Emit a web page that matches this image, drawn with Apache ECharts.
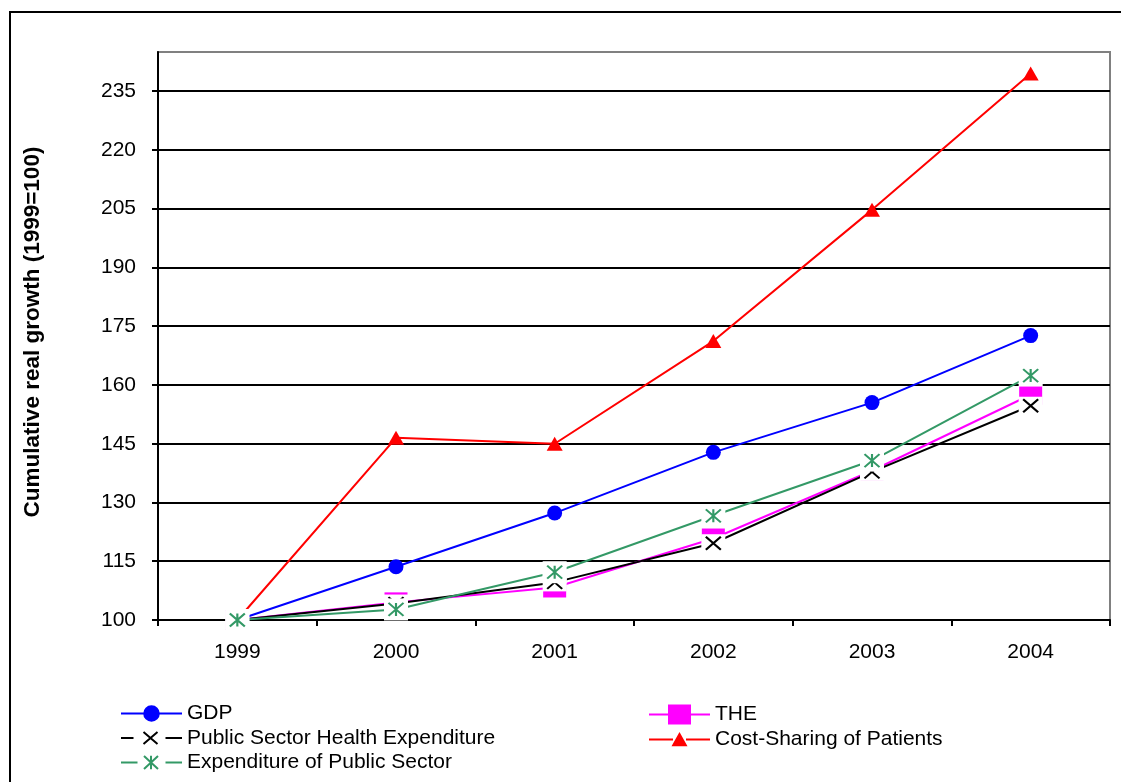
<!DOCTYPE html>
<html>
<head>
<meta charset="utf-8">
<script src="https://cdn.jsdelivr.net/npm/echarts@6/dist/echarts.min.js"></script>
<style>
  html, body { margin: 0; padding: 0; background: #fff; }
  #chart { width: 1121px; height: 782px; }
</style>
</head>
<body>
<div id="chart"></div>
<script>
// Cumulative real growth, 1999 = 100
const years = ['1999', '2000', '2001', '2002', '2003', '2004'];
const gdp = [100, 113.6, 127.3, 142.8, 155.5, 172.6];
const the = [100, 104.5, 108.3, 120.8, 138.1, 157.5];
const publicHealth = [100, 104.2, 109.6, 119.6, 137.8, 154.7];
const costSharing = [100, 146.5, 145.0, 171.2, 204.7, 239.5];
const publicSector = [100, 102.7, 112.2, 126.6, 140.7, 162.4];
const yTicks = [100, 115, 130, 145, 160, 175, 190, 205, 220, 235];

const names = {
  gdp: 'GDP',
  the: 'THE',
  pshe: 'Public Sector Health Expenditure',
  cost: 'Cost-Sharing of Patients',
  eps: 'Expenditure of Public Sector'
};
const colors = {
  gdp: '#0000FF',
  the: '#FF00FF',
  pshe: '#000000',
  cost: '#FF0000',
  eps: '#339966'
};

const FONT = '"Liberation Sans", Arial, sans-serif';

// ---- helpers for filled legend icon paths (61 x 20 box) ----
function fmt(n) { return (+n).toFixed(2); }
function polyP(pts) {
  let a = 0;
  for (let i = 0; i < pts.length; i++) {
    const p = pts[i], q = pts[(i + 1) % pts.length];
    a += p[0] * q[1] - q[0] * p[1];
  }
  if (a < 0) pts = pts.slice().reverse();
  return 'M' + pts.map(p => fmt(p[0]) + ' ' + fmt(p[1])).join('L') + 'Z';
}
function rectP(x, y, w, h) {
  return polyP([[x, y], [x + w, y], [x + w, y + h], [x, y + h]]);
}
function barP(x1, y1, x2, y2, w) {
  const dx = x2 - x1, dy = y2 - y1, len = Math.hypot(dx, dy);
  const nx = -dy / len * w / 2, ny = dx / len * w / 2;
  return polyP([[x1 + nx, y1 + ny], [x2 + nx, y2 + ny], [x2 - nx, y2 - ny], [x1 - nx, y1 - ny]]);
}
function circleP(cx, cy, r) {
  return 'M' + fmt(cx - r) + ' ' + fmt(cy) +
    'A' + r + ' ' + r + ' 0 1 1 ' + fmt(cx + r) + ' ' + fmt(cy) +
    'A' + r + ' ' + r + ' 0 1 1 ' + fmt(cx - r) + ' ' + fmt(cy) + 'Z';
}
// invisible corner points so every icon path spans the full 61 x 20 box
const corners = 'M0 0L0.01 0L0 0.01Z M61 20L60.99 20L61 19.99Z ';
const icon = {
  gdp: corners + rectP(0, 9, 22.5, 2) + rectP(38.5, 9, 22.5, 2) + circleP(30.5, 10, 8.3),
  the: corners + rectP(0, 9, 20, 2) + rectP(41, 9, 20, 2) + rectP(19, 0, 23, 20),
  pshe: corners + rectP(0, 9, 12.5, 2) + barP(22.5, 4, 36.5, 16, 2) + barP(22.5, 16, 36.5, 4, 2) + rectP(44.5, 9, 16.5, 2),
  cost: corners + rectP(0, 9, 24, 2) + rectP(37, 9, 24, 2) + polyP([[30.5, 2.6], [38.5, 16.8], [22.5, 16.8]]),
  eps: corners + rectP(0, 9, 16.5, 2) + barP(23, 3.5, 37, 16.5, 2) + barP(23, 16.5, 37, 3.5, 2) +
       barP(30, 3.2, 30, 16.8, 2) + rectP(44.5, 9, 16.5, 2)
};

// stroked marker glyphs used on the plot
const xGlyph = 'path://M0 0L15 13M0 13L15 0';
const starGlyph = 'path://M0 0L15 13M0 13L15 0M7.5 0L7.5 13';

function lineSeries(key, data) {
  return {
    name: names[key], type: 'line', data: data, z: 2,
    symbol: 'none', showSymbol: false,
    lineStyle: { color: colors[key], width: 2 },
    itemStyle: { color: colors[key] },
    emphasis: { disabled: true }
  };
}
function markerSeries(name, data, z, symbol, size, style) {
  return {
    name: name, type: 'scatter', data: data, z: z,
    symbol: symbol, symbolSize: size,
    itemStyle: Object.assign({ opacity: 1 }, style),
    emphasis: { disabled: true }, silent: true
  };
}

const legendText = { color: '#000', fontSize: 21, lineHeight: 20, fontFamily: FONT };

const chart = echarts.init(document.getElementById('chart'), null, { renderer: 'canvas' });

chart.setOption({
  animation: false,
  backgroundColor: '#ffffff',
  graphic: [{
    type: 'rect', z: -10, silent: true,
    shape: { x: 10, y: 12, width: 1200, height: 900 },
    style: { fill: 'none', stroke: '#000', lineWidth: 2 }
  }],
  grid: {
    left: 158, top: 52, right: 11, bottom: 162,
    show: true, borderColor: '#808080', borderWidth: 2, backgroundColor: 'transparent'
  },
  legend: [{
    orient: 'vertical', left: 121, top: 703, padding: 0,
    itemWidth: 61, itemHeight: 20, itemGap: 3.5,
    selectedMode: false, symbolKeepAspect: true, textStyle: legendText,
    data: [
      { name: names.gdp, icon: 'path://' + icon.gdp, itemStyle: { color: colors.gdp, borderWidth: 0 } },
      { name: names.pshe, icon: 'path://' + icon.pshe, itemStyle: { color: colors.pshe, borderWidth: 0 } },
      { name: names.eps, icon: 'path://' + icon.eps, itemStyle: { color: colors.eps, borderWidth: 0 } }
    ]
  }, {
    orient: 'vertical', left: 649, top: 704, padding: 0,
    itemWidth: 61, itemHeight: 20, itemGap: 4,
    selectedMode: false, symbolKeepAspect: true, textStyle: legendText,
    data: [
      { name: names.the, icon: 'path://' + icon.the, itemStyle: { color: colors.the, borderWidth: 0 } },
      { name: names.cost, icon: 'path://' + icon.cost, itemStyle: { color: colors.cost, borderWidth: 0 } }
    ]
  }],
  xAxis: {
    type: 'category', data: years, boundaryGap: true,
    axisLine: { lineStyle: { color: '#000', width: 2 } },
    axisTick: { show: true, inside: false, length: 6, alignWithLabel: false, lineStyle: { color: '#000', width: 2 } },
    axisLabel: { interval: 0, margin: 22, color: '#000', fontSize: 21, fontFamily: FONT },
    splitLine: { show: false }
  },
  yAxis: {
    type: 'value', min: 100, max: 245, interval: 15,
    name: 'Cumulative real growth (1999=100)',
    nameLocation: 'middle', nameGap: 114, nameRotate: 90,
    nameTextStyle: { color: '#000', fontSize: 22.5, fontWeight: 'bold', fontFamily: FONT, padding: [0, 0, 0, 8] },
    axisLine: { show: true, lineStyle: { color: '#000', width: 2 } },
    axisTick: { show: true, inside: false, length: 6, customValues: yTicks, lineStyle: { color: '#000', width: 2 } },
    axisLabel: { margin: 22, color: '#000', fontSize: 21, fontFamily: FONT, customValues: yTicks },
    splitLine: { show: true, lineStyle: { color: '#000', width: 2 } }
  },
  series: [
    lineSeries('gdp', gdp),
    lineSeries('the', the),
    lineSeries('pshe', publicHealth),
    lineSeries('cost', costSharing),
    lineSeries('eps', publicSector),
    markerSeries('gdp-marker', gdp, 3, 'circle', 15, { color: colors.gdp }),
    markerSeries('the-marker', the, 4, 'rect', [23, 20], { color: colors.the }),
    markerSeries('pshe-box', publicHealth, 5, 'rect', [24, 18], { color: '#fff' }),
    markerSeries('pshe-marker', publicHealth, 6, xGlyph, [15, 13], { color: colors.pshe, borderColor: colors.pshe, borderWidth: 2 }),
    markerSeries('cost-marker', costSharing, 7, 'triangle', [16, 14], { color: colors.cost }),
    markerSeries('eps-box', publicSector, 8, 'rect', [24, 22], { color: '#fff' }),
    markerSeries('eps-marker', publicSector, 9, starGlyph, [15, 13], { color: colors.eps, borderColor: colors.eps, borderWidth: 2 })
  ]
});
</script>
</body>
</html>
